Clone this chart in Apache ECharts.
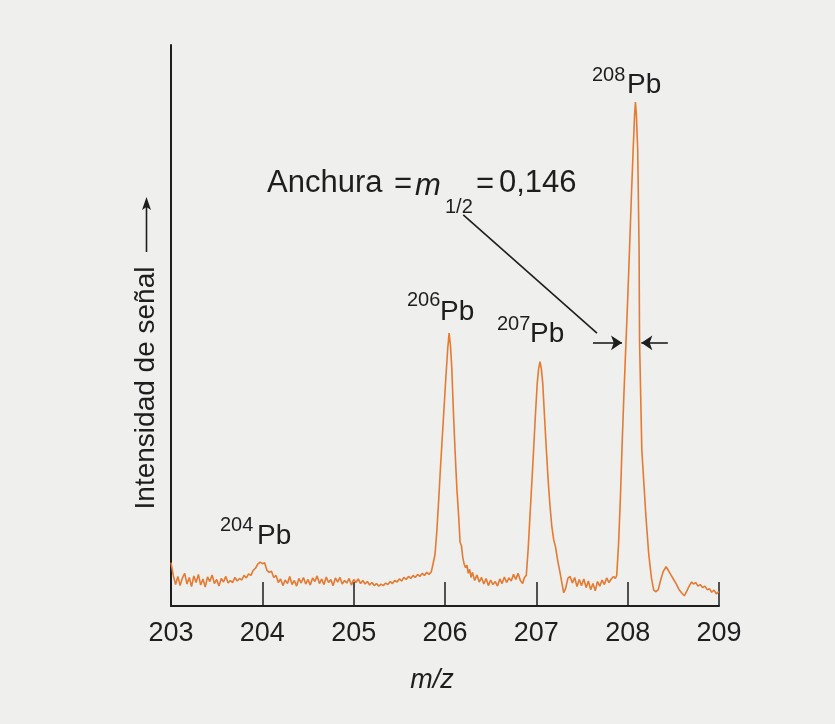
<!DOCTYPE html>
<html><head><meta charset="utf-8">
<script src="https://cdn.jsdelivr.net/npm/echarts@6/dist/echarts.min.js"></script>
<style>html,body{margin:0;padding:0;background:#efefee}#c{width:835px;height:724px}</style>
</head><body><div id="c"></div>
<script>
// ---- data: [m/z, signal intensity (arbitrary units)] ----
const noise203to206 = [
[203.000,8.5],[203.025,6.0],[203.050,4.2],[203.075,5.8],[203.100,4.0],[203.125,5.5],[203.150,6.4],[203.175,4.3],
[203.200,5.6],[203.225,3.8],[203.250,5.9],[203.275,4.6],[203.300,6.2],[203.325,4.1],[203.350,5.3],[203.375,3.7],
[203.400,5.7],[203.425,4.8],[203.450,6.1],[203.475,4.4],[203.500,5.2],[203.525,3.9],[203.550,5.4],[203.575,4.7],
[203.600,5.8],[203.625,4.5],[203.650,5.0],[203.675,4.6],[203.700,5.6],[203.725,4.9],[203.750,5.4],[203.775,5.1],
[203.800,6.0],[203.825,5.5],[203.850,6.3],[203.875,6.0],[203.900,7.0],[203.925,7.4],[203.950,8.2],[203.975,8.6],
[204.000,8.3],[204.025,8.5],[204.050,7.0],[204.075,6.6],[204.100,6.8],[204.125,5.6],[204.150,6.0],[204.175,4.6],
[204.200,5.3],[204.225,4.0],[204.250,5.1],[204.275,4.4],[204.300,5.8],[204.325,4.2],[204.350,5.0],[204.375,3.9],
[204.400,5.4],[204.425,4.5],[204.450,5.6],[204.475,4.3],[204.500,5.2],[204.525,4.1],[204.550,5.5],[204.575,4.8],
[204.600,5.9],[204.625,4.4],[204.650,5.3],[204.675,4.2],[204.700,5.7],[204.725,4.6],[204.750,5.2],[204.775,4.0],
[204.800,5.5],[204.825,4.7],[204.850,5.6],[204.875,4.3],[204.900,5.0],[204.925,4.5],[204.950,5.4],[204.975,4.1],
[205.000,5.2],[205.025,4.6],[205.050,5.3],[205.075,4.4],[205.100,5.0],[205.125,4.3],[205.150,4.8],[205.175,4.1],
[205.200,4.6],[205.225,4.0],[205.250,4.4],[205.275,3.9],[205.300,4.3],[205.325,4.0],[205.350,4.5],[205.375,4.2],
[205.400,4.8],[205.425,4.4],[205.450,5.0],[205.475,4.7],[205.500,5.3],[205.525,4.9],[205.550,5.6],[205.575,5.2],
[205.600,5.8],[205.625,5.4],[205.650,6.0],[205.675,5.6],[205.700,6.2],[205.725,5.8],[205.750,6.4],[205.775,6.0],
[205.800,6.6],[205.825,6.2],[205.850,6.7]
];
const peak206 = [
[205.870,7.0],[205.890,10.0],[205.910,14.5],[205.930,20.5],[205.950,27.0],[205.970,33.0],[205.990,39.0],
[206.010,45.0],[206.030,50.5],[206.045,53.5],[206.060,51.0],[206.075,46.5],[206.090,39.0],[206.110,30.5],
[206.130,23.0],[206.150,17.5],[206.165,12.5],[206.180,11.8],[206.195,9.5],[206.210,8.2],[206.225,7.5]
];
const noise206to207 = [
[206.240,8.0],[206.255,6.4],[206.270,7.2],[206.285,5.6],[206.300,6.6],[206.325,5.0],[206.350,6.1],[206.375,4.7],
[206.400,5.6],[206.425,4.3],[206.450,5.4],[206.475,4.0],[206.500,5.1],[206.525,4.2],[206.550,4.8],[206.575,3.9],
[206.600,5.3],[206.625,4.4],[206.650,5.7],[206.675,4.6],[206.700,5.5],[206.725,4.9],[206.750,6.2],[206.775,5.2],
[206.800,6.4],[206.825,5.0],[206.850,4.4],[206.870,5.6]
];
const peak207 = [
[206.890,6.0],[206.910,11.0],[206.930,17.5],[206.950,24.0],[206.970,30.6],[206.990,37.5],[207.010,43.7],
[207.025,46.5],[207.040,47.9],[207.055,46.5],[207.070,43.7],[207.090,37.0],[207.110,30.6],[207.130,24.5],
[207.150,19.5],[207.170,15.5],[207.190,13.0],[207.210,11.6],[207.235,8.8],[207.260,6.5],[207.280,4.5],[207.300,2.6]
];
const noise207to208 = [
[207.320,3.4],[207.345,5.4],[207.370,5.8],[207.395,4.5],[207.420,5.6],[207.445,3.8],[207.470,5.2],[207.495,4.0],
[207.520,5.3],[207.545,3.6],[207.570,4.9],[207.595,3.2],[207.620,4.4],[207.645,3.0],[207.670,4.8],[207.695,3.9],
[207.720,5.1],[207.745,4.2],[207.770,5.5],[207.795,4.6],[207.820,5.3],[207.845,5.8],[207.865,5.4]
];
const peak208 = [
[207.880,6.0],[207.900,12.0],[207.920,21.0],[207.940,32.0],[207.960,42.0],[207.980,51.0],[208.000,60.0],
[208.020,69.8],[208.040,80.0],[208.060,89.4],[208.075,96.0],[208.085,98.8],[208.095,96.5],[208.110,89.4],
[208.125,70.0],[208.130,52.0],[208.155,30.6],[208.200,17.5],[208.230,10.3],[208.260,5.5],[208.285,3.1]
];
const tail208to209 = [
[208.310,2.8],[208.335,3.2],[208.360,5.0],[208.390,6.8],[208.420,7.7],[208.445,7.0],[208.470,6.2],[208.500,5.3],
[208.530,4.4],[208.560,3.3],[208.590,2.6],[208.620,2.0],[208.645,2.8],[208.670,3.8],[208.700,4.7],[208.720,4.3],
[208.745,4.6],[208.770,3.9],[208.795,4.2],[208.820,3.6],[208.845,3.9],[208.870,3.2],[208.895,3.4],[208.920,2.7],
[208.945,3.1],[208.970,2.4],[208.990,2.2],[209.000,2.8]
];
const xTickLabels = ['203','204','205','206','207','208','209'];
const isotopeMasses = ['204','206','207','208'];
const halfHeight208 = 51.6;          // level of the width arrows
const widthText = ['Anchura', '=', 'm', '1/2', '=', '0,146'];
const xAxisTitle = 'm/z';
const yAxisTitle = 'Intensidad de señal';

const spectrum = [].concat(noise203to206, peak206, noise206to207, peak207, noise207to208, peak208, tail208to209);

const FONT = "'Liberation Sans', Arial, Helvetica, sans-serif";
const INK = '#1e1e1e';
const chart = echarts.init(document.getElementById('c'), null, {renderer: 'canvas'});

function txt(str, x, y, size, opts) {
  opts = opts || {};
  return {
    type: 'text', x: x, y: y, rotation: opts.rotation || 0, silent: true, z: 100,
    style: {
      text: str, fill: INK,
      font: (opts.italic ? 'italic ' : '') + size + 'px ' + FONT,
      textAlign: opts.align || 'left', verticalAlign: 'middle'
    }
  };
}

// peak labels: superscript mass number + "Pb"
const labelPos = [[220, 525, 257, 536], [407, 300, 440, 312], [497, 324, 530, 334], [592, 75, 627, 85]];
const graphics = [];
isotopeMasses.forEach((m, i) => {
  const p = labelPos[i];
  graphics.push(txt(m, p[0], p[1], 20));
  graphics.push(txt('Pb', p[2], p[3], 28));
});
// width annotation text
graphics.push(txt(widthText[0], 267, 183, 31));
graphics.push(txt(widthText[1], 394, 184, 31));
graphics.push(txt(widthText[2], 415, 186, 31, {italic: true}));
graphics.push(txt(widthText[3], 445, 207, 20));
graphics.push(txt(widthText[4], 476, 184, 31));
graphics.push(txt(widthText[5], 499, 183, 31));
// y-axis title (rotated) and its arrow
graphics.push(txt(yAxisTitle, 146, 388, 28, {rotation: Math.PI / 2, align: 'center'}));
graphics.push({type: 'line', silent: true, shape: {x1: 146.5, y1: 252, x2: 146.5, y2: 207}, style: {stroke: INK, lineWidth: 1.6}});
graphics.push({type: 'polygon', silent: true, shape: {points: [[146.5, 197], [142, 210], [146.5, 207], [151, 210]]}, style: {fill: INK}});

chart.setOption({
  backgroundColor: '#efefee',
  animation: false,
  grid: {left: 171, right: 116, top: 45, bottom: 118},
  xAxis: {
    type: 'value', min: 203, max: 209, interval: 1,
    axisLine: {lineStyle: {color: INK, width: 2}},
    axisTick: {inside: true, length: 24, lineStyle: {color: INK, width: 1.5}},
    axisLabel: {margin: 14, fontSize: 27, fontFamily: FONT, color: INK,
      formatter: (v) => xTickLabels[Math.round(v - 203)]},
    splitLine: {show: false},
    name: xAxisTitle, nameLocation: 'middle', nameGap: 61,
    nameTextStyle: {fontSize: 27, fontStyle: 'italic', fontFamily: FONT, color: INK, padding: [0, 26, 0, 0]}
  },
  yAxis: {
    type: 'value', min: 0, max: 110,
    axisLine: {show: true, lineStyle: {color: INK, width: 2}},
    axisTick: {show: false}, axisLabel: {show: false}, splitLine: {show: false}
  },
  series: [{
    type: 'line', data: spectrum, showSymbol: false, smooth: false,
    lineStyle: {color: '#e67a30', width: 1.6},
    markLine: {
      silent: true, animation: false,
      symbol: ['none', 'arrow'], symbolSize: 11,
      label: {show: false},
      lineStyle: {color: INK, width: 1.6, type: 'solid'},
      data: [
        [{coord: [207.62, halfHeight208]}, {coord: [207.938, halfHeight208]}],
        [{coord: [208.44, halfHeight208]}, {coord: [208.15, halfHeight208]}],
        [{coord: [206.20, 76.7], symbol: 'none'}, {coord: [207.664, 53.5], symbol: 'none'}]
      ]
    }
  }],
  graphic: graphics
});
</script>
</body></html>
